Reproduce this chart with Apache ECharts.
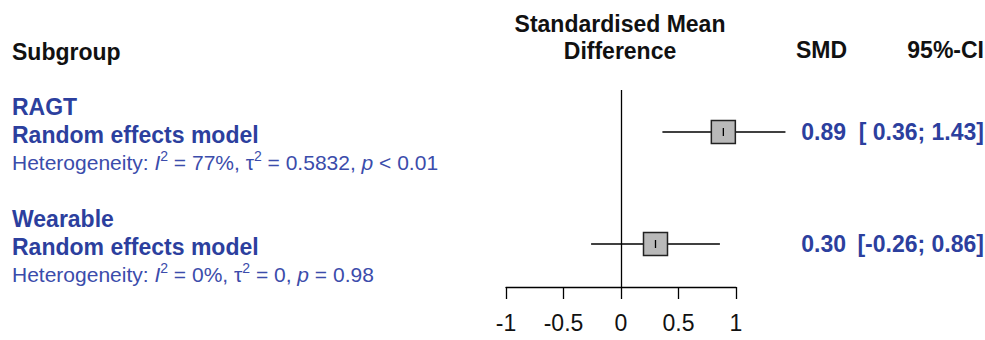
<!DOCTYPE html>
<html>
<head>
<meta charset="utf-8">
<script src="https://cdn.jsdelivr.net/npm/echarts@6/dist/echarts.min.js"></script>
<style>
  html, body { margin: 0; padding: 0; background: #fff; }
  #forest { width: 985px; height: 340px; }
</style>
</head>
<body>
<div id="forest"></div>
<script>
// subgroup data
var subgroups = ['RAGT', 'Wearable'];
var smd = [0.89, 0.30];
var ciLow = [0.36, -0.26];
var ciHigh = [1.43, 0.86];
var i2 = ['77%', '0%'];
var tau2 = ['0.5832', '0'];
var pText = ['< 0.01', '= 0.98'];
var xTicks = [-1, -0.5, 0, 0.5, 1];

var blue = '#2c3f9e';
var blueLight = '#3b4cab';
var font = '"Liberation Sans", Arial, sans-serif';

var chartDom = document.getElementById('forest');
var myChart = echarts.init(chartDom, null, { renderer: 'svg' });

function fmt(v) {
  return v.toFixed(2);
}

function renderRow(params, api) {
  var i = api.value(0);
  var est = api.value(1);
  var lo = api.value(2);
  var hi = api.value(3);
  var c = api.coord([est, i]);
  var pLo = api.coord([lo, i]);
  var pHi = api.coord([hi, i]);
  var y = c[1];
  var bw = 24, bh = 23;
  var children = [
    // CI line
    {
      type: 'line',
      shape: { x1: pLo[0], y1: y, x2: pHi[0], y2: y },
      style: { stroke: '#000', lineWidth: 1.3 }
    },
    // box
    {
      type: 'rect',
      shape: { x: c[0] - bw / 2, y: y - bh / 2, width: bw, height: bh },
      style: { fill: '#b9b9b9', stroke: '#222', lineWidth: 1.5 }
    },
    // point estimate tick
    {
      type: 'line',
      shape: { x1: c[0], y1: y - 4, x2: c[0], y2: y + 4 },
      style: { stroke: '#000', lineWidth: 1.3 }
    },
    // subgroup name
    {
      type: 'text',
      style: {
        x: 12, y: y - 25, text: subgroups[i],
        font: 'bold 23px ' + font, fill: blue, verticalAlign: 'middle'
      }
    },
    {
      type: 'text',
      style: {
        x: 12, y: y + 3, text: 'Random effects model',
        font: 'bold 23px ' + font, fill: blue, verticalAlign: 'middle'
      }
    },
    // heterogeneity
    {
      type: 'text',
      style: {
        x: 12, y: y + 31,
        text: 'Heterogeneity: {it|I}{sup|2} = ' + i2[i] + ', τ{sup|2} = ' + tau2[i] + ', {it|p} ' + pText[i],
        font: '21px ' + font, fill: blueLight, verticalAlign: 'middle',
        rich: {
          it: { fontStyle: 'italic', fontSize: 21, fontFamily: font, fill: blueLight },
          sup: { fontSize: 14, fontFamily: font, fill: blueLight, verticalAlign: 'top', lineHeight: 28 }
        }
      }
    },
    // SMD column
    {
      type: 'text',
      style: {
        x: 846, y: y, text: fmt(est), align: 'right',
        font: 'bold 23px ' + font, fill: blue, verticalAlign: 'middle'
      }
    },
    // CI column
    {
      type: 'text',
      style: {
        x: 984, y: y, align: 'right',
        text: '[' + (lo < 0 ? '' : ' ') + fmt(lo) + '; ' + fmt(hi) + ']',
        font: 'bold 23px ' + font, fill: blue, verticalAlign: 'middle'
      }
    }
  ];
  return { type: 'group', children: children };
}

var rows = subgroups.map(function (name, i) {
  return [i, smd[i], ciLow[i], ciHigh[i]];
});

var option = {
  backgroundColor: '#fff',
  animation: false,
  textStyle: { fontFamily: font },
  grid: { left: 506, right: 249, top: 90, bottom: 53 },
  xAxis: {
    type: 'value',
    min: -1,
    max: 1,
    interval: 0.5,
    axisLine: { show: true, onZero: false, lineStyle: { color: '#000', width: 1.3 } },
    axisTick: { show: true, length: 12, lineStyle: { color: '#000', width: 1.3 } },
    axisLabel: {
      color: '#111',
      fontSize: 23,
      margin: 24,
      fontFamily: font,
      formatter: function (v) { return xTicks.indexOf(v) >= 0 ? String(v) : ''; }
    },
    splitLine: { show: false }
  },
  yAxis: {
    type: 'value',
    inverse: true,
    min: -0.375,
    max: 1.384,
    show: false
  },
  graphic: [
    {
      type: 'text', left: 12, top: 40,
      style: { text: 'Subgroup', font: 'bold 23px ' + font, fill: '#111' }
    },
    {
      type: 'text', x: 620, y: 10,
      style: {
        text: 'Standardised Mean\nDifference', font: 'bold 23px ' + font,
        fill: '#111', align: 'center', lineHeight: 27
      }
    },
    {
      type: 'text', x: 847, y: 50,
      style: { text: 'SMD', font: 'bold 23px ' + font, fill: '#111', align: 'right', verticalAlign: 'middle' }
    },
    {
      type: 'text', x: 984, y: 50,
      style: { text: '95%-CI', font: 'bold 23px ' + font, fill: '#111', align: 'right', verticalAlign: 'middle' }
    }
  ],
  series: [
    {
      type: 'custom',
      renderItem: renderRow,
      clip: false,
      encode: { x: [1, 2, 3], y: 0 },
      data: rows,
      markLine: {
        silent: true,
        symbol: 'none',
        label: { show: false },
        lineStyle: { color: '#000', width: 1.3, type: 'solid' },
        data: [{ xAxis: 0 }]
      }
    }
  ]
};

option && myChart.setOption(option);
</script>
</body>
</html>
